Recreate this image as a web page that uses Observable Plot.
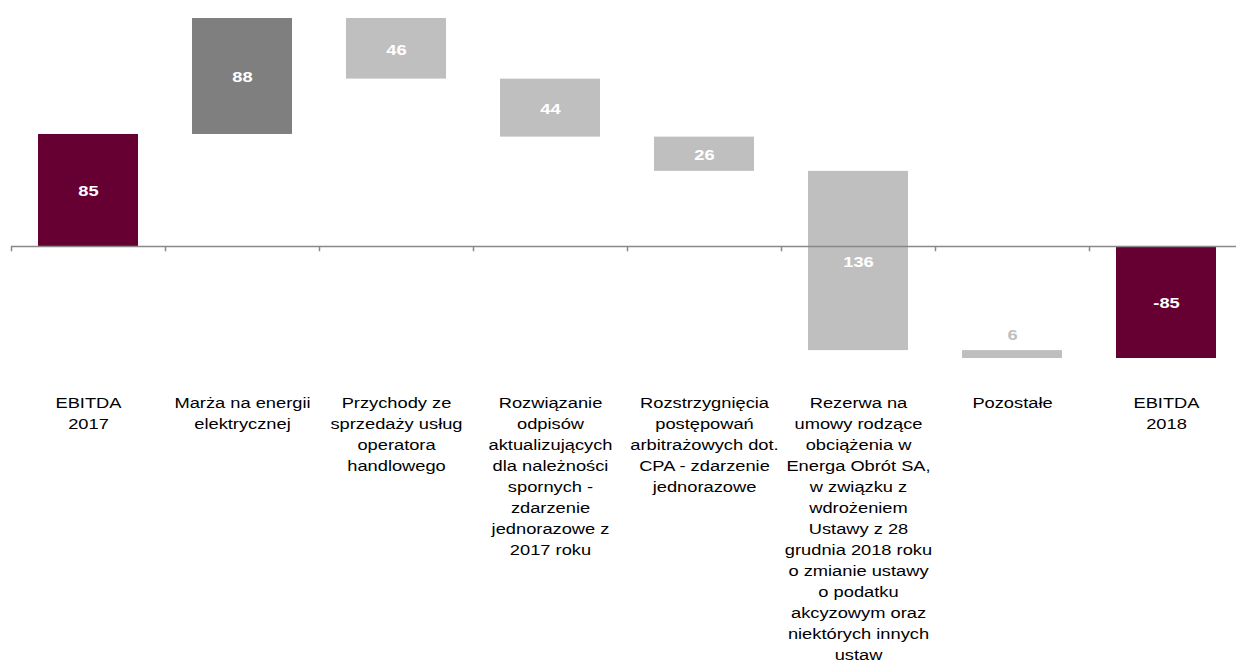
<!DOCTYPE html>
<html>
<head>
<meta charset="utf-8">
<script src="https://cdn.jsdelivr.net/npm/d3@7"></script>
<script src="https://cdn.jsdelivr.net/npm/@observablehq/plot@0.6"></script>
<style>
  html, body { margin: 0; padding: 0; background: #fff; overflow: hidden; }
  #chart { width: 1236px; height: 666px; }
</style>
</head>
<body>
<div id="chart"></div>
<script>
// Category labels (line breaks as in the original)
const categories = [
  "EBITDA\n2017",
  "Marża na energii\nelektrycznej",
  "Przychody ze\nsprzedaży usług\noperatora\nhandlowego",
  "Rozwiązanie\nodpisów\naktualizujących\ndla należności\nspornych -\nzdarzenie\njednorazowe z\n2017 roku",
  "Rozstrzygnięcia\npostępowań\narbitrażowych dot.\nCPA - zdarzenie\njednorazowe",
  "Rezerwa na\numowy rodzące\nobciążenia w\nEnerga Obrót SA,\nw związku z\nwdrożeniem\nUstawy z 28\ngrudnia 2018 roku\no zmianie ustawy\no podatku\nakcyzowym oraz\nniektórych innych\nustaw",
  "Pozostałe",
  "EBITDA\n2018"
];
// Values (mln PLN): totals are levels, others are changes
const values = [85, 88, -46, -44, -26, -136, -6, -85];
const kinds = ["total", "increase", "decrease", "decrease", "decrease", "decrease", "decrease", "total"];

// Build waterfall table
let running = 0;
const rows = values.map((v, i) => {
  let y1, y2;
  if (kinds[i] === "total") { y1 = 0; y2 = v; running = v; }
  else { y1 = running; y2 = running + v; running = y2; }
  return {
    i, v, kind: kinds[i], y1, y2,
    label: kinds[i] === "total" ? String(v) : String(Math.abs(v)),
    small: Math.abs(v) < 10
  };
});

const colors = { total: "#660033", increase: "#7f7f7f", decrease: "#bfbfbf" };
const axisColor = "#898989";
const fs = 15.5;

const chart = Plot.plot({
  width: 1236,
  height: 666,
  marginLeft: 11,
  marginRight: 0,
  marginTop: 0,
  marginBottom: 270,
  style: { fontFamily: "'Liberation Sans', Arial, sans-serif", background: "#fff" },
  x: { type: "linear", domain: [0, 8], range: [11, 1243], axis: null },
  y: { domain: [-85, 173], range: [358, 18], axis: null },
  marks: [
    Plot.rectY(rows, {
      x1: d => d.i, x2: d => d.i + 1,
      y1: "y1", y2: "y2",
      fill: d => colors[d.kind],
      insetLeft: 27, insetRight: 27
    }),
    Plot.ruleY([0], { stroke: axisColor, strokeWidth: 1.5 }),
    Plot.ruleX(d3.range(categories.length + 1), {
      x: d => d, y1: 0, y2: -4, stroke: axisColor, strokeWidth: 1.5
    }),
    // value labels inside bars
    Plot.text(rows.filter(d => !d.small), {
      x: d => d.i + 0.5,
      y: d => (d.y1 + d.y2) / 2,
      text: "label",
      fill: "white",
      fontWeight: "bold",
      fontSize: fs,
      dy: 1
    }),
    // value labels above small bars
    Plot.text(rows.filter(d => d.small), {
      x: d => d.i + 0.5,
      y: d => Math.max(d.y1, d.y2),
      text: "label",
      fill: "#bfbfbf",
      fontWeight: "bold",
      fontSize: fs,
      dy: -16
    }),
    // category labels
    Plot.text(categories, {
      x: (d, i) => i + 0.5,
      frameAnchor: "bottom",
      lineAnchor: "top",
      text: d => d,
      fill: "#000",
      fontSize: fs,
      lineHeight: 21 / fs,
      dy: -3
    })
  ]
});

// The original's lettering is drawn slightly wider than its height suggests:
// stretch each text horizontally around its own anchor.
chart.querySelectorAll("text").forEach(t => {
  const tr = t.getAttribute("transform") || "";
  t.setAttribute("transform", `${tr} scale(1.18,1)`);
});

document.getElementById("chart").appendChild(chart);
</script>
</body>
</html>
